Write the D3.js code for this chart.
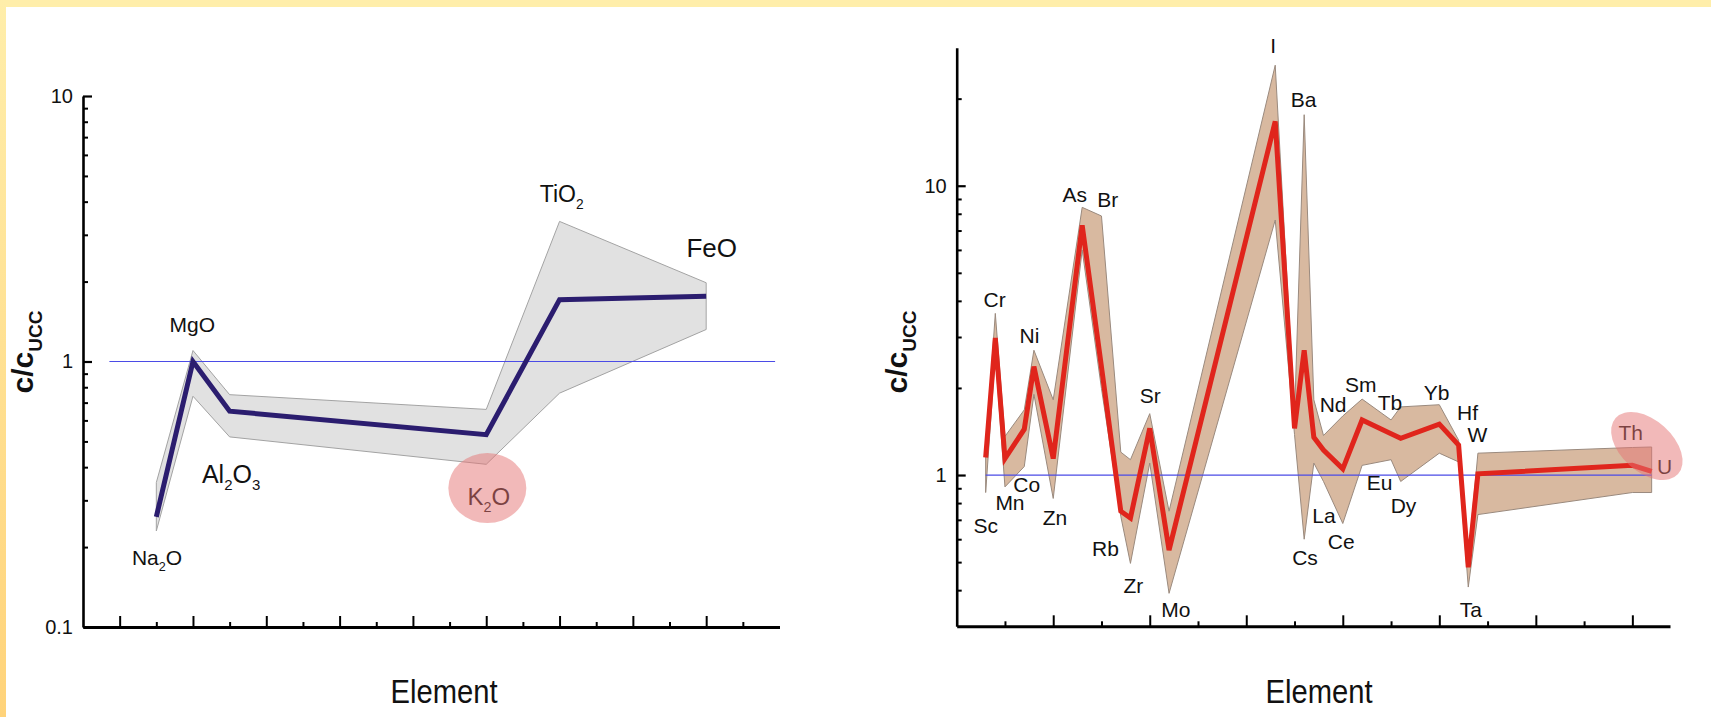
<!DOCTYPE html>
<html>
<head>
<meta charset="utf-8">
<script src="https://cdn.jsdelivr.net/npm/d3@7"></script>
<style>
html, body { margin:0; padding:0; background:#fff; overflow:hidden; }
text { font-family: "Liberation Sans", Arial, sans-serif; }
</style>
</head>
<body>
<div id="grafica"></div>
<script>
// ---- grafica izquierda: oxidos ----
var oxidos      = ["Na2O", "MgO", "Al2O3", "K2O", "TiO2", "FeO"];
var oxidoPos    = [2, 3, 4, 11, 13, 17];
var oxidoMedia  = [0.26, 1.0, 0.65, 0.53, 1.71, 1.76];
var oxidoMax    = [0.35, 1.10, 0.75, 0.66, 3.37, 1.98];
var oxidoMin    = [0.23, 0.74, 0.52, 0.41, 0.76, 1.32];
// etiquetas (texto, posicion en unidades de datos)
var oxidoEtiq     = ["Na_2O", "MgO", "Al_2O_3", "K_2O", "TiO_2", "FeO"];
var oxidoEtiqX    = [2.02, 2.98, 4.04, 11.07, 13.06, 17.15];
var oxidoEtiqY    = [0.1715, 1.297, 0.350, 0.2886, 4.0, 2.47];
var oxidoYMayor   = [0.1, 1, 10];
var oxidoYMenor   = [0.2, 0.3, 0.4, 0.5, 0.6, 0.7, 0.8, 0.9, 2, 3, 4, 5, 6, 7, 8, 9];
var oxidoXMayor   = [1, 3, 5, 7, 9, 11, 13, 15, 17];
var oxidoXMenor   = [2, 4, 6, 8, 10, 12, 14, 16, 18];

// ---- grafica derecha: elementos traza ----
var elementos = ["Sc","Cr","Mn","Co","Ni","Zn","As","Br","Rb","Zr","Sr","Mo","I","Cs","Ba","La","Nd","Ce","Sm","Tb","Dy","Yb","Hf","Ta","W","Th","U"];
var elemPos   = [0.6,0.8,1.0,1.4,1.6,2.0,2.6,3.0,3.4,3.6,4.0,4.4,6.6,7.0,7.2,7.4,7.6,8.0,8.4,9.0,9.2,10.0,10.4,10.6,10.8,14.0,14.4];
var elemMedia = [1.15,2.98,1.14,1.44,2.37,1.14,7.3,2.36,0.75,0.71,1.45,0.55,16.7,1.45,2.70,1.35,1.22,1.05,1.55,1.39,1.34,1.50,1.27,0.48,1.01,1.08,1.03];
var elemMax   = [1.2,3.62,1.36,1.68,2.70,1.82,8.42,7.86,1.2,1.13,1.63,0.75,26.1,1.6,17.6,1.82,1.37,1.60,1.83,1.55,1.72,1.75,1.32,0.52,1.19,1.245,1.25];
var elemMin   = [0.87,2.6,0.91,1.07,1.9,0.83,6.0,1.99,0.72,0.495,1.1,0.39,7.61,1.38,0.60,1.10,0.95,0.68,1.08,1.13,0.95,1.19,1.11,0.41,0.73,0.87,0.87];
var elemEtiq  = ["I","Ba","As","Br","Cr","Ni","Sc","Mn","Co","Zn","Rb","Zr","Sr","Mo","Cs","La","Ce","Nd","Sm","Tb","Eu","Dy","Yb","Hf","W","Ta","Th","U"];
var elemEtiqX = [6.56,7.19,2.445,3.13,0.787,1.508,0.603,1.104,1.45,2.037,3.083,3.66,4.01,4.54,7.217,7.61,7.967,7.80,8.373,8.978,8.765,9.258,9.946,10.584,10.787,10.653,13.968,14.67];
var elemEtiqY = [28.7,18.75,8.81,8.46,3.82,2.85,0.629,0.757,0.876,0.672,0.526,0.392,1.77,0.322,0.489,0.684,0.555,1.655,1.94,1.678,0.888,0.741,1.816,1.549,1.304,0.322,1.321,1.008];
var elemYMayor = [1, 10];
var elemYMenor = [0.4, 0.5, 0.6, 0.7, 0.8, 0.9, 2, 3, 4, 5, 6, 7, 8, 9, 20];
var elemXMayor = [2, 4, 6, 8, 10, 12, 14];
var elemXMenor = [1, 3, 5, 7, 9, 11, 13];

var W = 1711, H = 717;
var svg = d3.select("#grafica").append("svg")
  .attr("width", W).attr("height", H);

// marco amarillo
var grad = svg.append("defs").append("linearGradient")
  .attr("id", "marco").attr("x1", 0).attr("y1", 0).attr("x2", 0).attr("y2", 1);
grad.append("stop").attr("offset", "0%").attr("stop-color", "#ffeeaa");
grad.append("stop").attr("offset", "100%").attr("stop-color", "#ffd37a");
svg.append("rect").attr("x", 0).attr("y", 0).attr("width", W).attr("height", 7).attr("fill", "#ffeeaa");
svg.append("rect").attr("x", 0).attr("y", 0).attr("width", 6).attr("height", H).attr("fill", "url(#marco)");

// texto con subindices: "Al_2O_3"
function etiqueta(g, texto, px, py, size, fill) {
  var t = g.append("text")
    .attr("x", px).attr("y", py)
    .attr("text-anchor", "middle")
    .attr("font-size", size)
    .attr("fill", fill || "#111");
  var partes = texto.split("_");
  t.append("tspan").text(partes[0]);
  for (var i = 1; i < partes.length; i++) {
    t.append("tspan").attr("font-size", size * 0.6).attr("dy", size * 0.3).text(partes[i].charAt(0));
    if (partes[i].length > 1) t.append("tspan").attr("dy", -size * 0.3).text(partes[i].slice(1));
  }
  return t;
}

function panel(cfg) {
  var g = svg.append("g");
  var x = d3.scaleLinear().domain(cfg.xDom).range(cfg.xRan);
  var y = d3.scaleLog().domain(cfg.yDom).range(cfg.yRan);
  var filas = cfg.pos.map(function(p, i) {
    return {x: p, m: cfg.media[i], hi: cfg.max[i], lo: cfg.min[i]};
  });

  // banda min-max
  var area = d3.area()
    .x(function(d) { return x(d.x); })
    .y0(function(d) { return y(d.lo); })
    .y1(function(d) { return y(d.hi); });
  g.append("path").datum(filas)
    .attr("d", area)
    .attr("fill", cfg.banda)
    .attr("stroke", cfg.bordeBanda)
    .attr("stroke-width", 1);

  // linea de referencia c/cUCC = 1
  g.append("line")
    .attr("x1", x(cfg.ref[0])).attr("x2", x(cfg.ref[1]))
    .attr("y1", y(1)).attr("y2", y(1))
    .attr("stroke", "#4b4be6").attr("stroke-width", 1.2);

  // media
  var linea = d3.line()
    .x(function(d) { return x(d.x); })
    .y(function(d) { return y(d.m); });
  g.append("path").datum(filas)
    .attr("d", linea)
    .attr("fill", "none")
    .attr("stroke", cfg.color)
    .attr("stroke-width", 5);

  // ejes
  var x0 = cfg.xRan[0], yBase = cfg.yRan[0];
  var ejeY = g.append("g").attr("transform", "translate(" + x0 + ",0)")
    .call(d3.axisLeft(y).tickValues(cfg.yMayor).tickFormat(d3.format("~g"))
      .tickSize(-9).tickSizeOuter(0).tickPadding(10));
  ejeY.select(".domain").attr("stroke-width", 2.6);
  ejeY.selectAll(".tick line").attr("stroke-width", 2.2);
  ejeY.selectAll(".tick text").attr("font-size", 20).attr("fill", "#111")
    .style("font-family", "'Liberation Sans', Arial, sans-serif");

  var ejeYm = g.append("g").attr("transform", "translate(" + x0 + ",0)")
    .call(d3.axisLeft(y).tickValues(cfg.yMenor).tickFormat("").tickSize(-5).tickSizeOuter(0));
  ejeYm.select(".domain").remove();
  ejeYm.selectAll(".tick line").attr("stroke-width", 2);

  var ejeX = g.append("g").attr("transform", "translate(0," + yBase + ")")
    .call(d3.axisBottom(x).tickValues(cfg.xMayor).tickFormat("").tickSize(-11).tickSizeOuter(0));
  ejeX.select(".domain").attr("stroke-width", 3);
  ejeX.selectAll(".tick line").attr("stroke-width", 2);

  var ejeXm = g.append("g").attr("transform", "translate(0," + yBase + ")")
    .call(d3.axisBottom(x).tickValues(cfg.xMenor).tickFormat("").tickSize(-5).tickSizeOuter(0));
  ejeXm.select(".domain").remove();
  ejeXm.selectAll(".tick line").attr("stroke-width", 2);

  // etiquetas de elementos
  cfg.etiq.forEach(function(t, i) {
    var fs = cfg.tamEtiq[t] || cfg.tamBase;
    etiqueta(g, t, x(cfg.etiqX[i]), y(cfg.etiqY[i]), fs);
  });

  // resaltado
  cfg.resaltes.forEach(function(r) {
    var cx = x(r.x), cy = y(r.y);
    g.append("ellipse")
      .attr("cx", cx).attr("cy", cy)
      .attr("rx", r.rx).attr("ry", r.ry)
      .attr("transform", "rotate(" + r.rot + "," + cx + "," + cy + ")")
      .attr("fill", "#e57373").attr("opacity", 0.5);
  });

  // titulos
  var yt = g.append("text")
    .attr("transform", "translate(" + (x0 - 50) + ",352) rotate(-90)")
    .attr("text-anchor", "middle")
    .attr("font-size", 30).attr("font-weight", "bold").attr("fill", "#111");
  yt.append("tspan").text("c/c");
  yt.append("tspan").attr("font-size", 19).attr("dy", 9).text("UCC");

  g.append("text")
    .attr("x", cfg.tituloX).attr("y", 703)
    .attr("text-anchor", "middle")
    .attr("font-size", 33)
    .attr("textLength", 107).attr("lengthAdjust", "spacingAndGlyphs")
    .attr("fill", "#111")
    .text("Element");
}

panel({
  xDom: [0, 19], xRan: [83, 779.5],
  yDom: [0.1, 10], yRan: [627, 96],
  pos: oxidoPos, media: oxidoMedia, max: oxidoMax, min: oxidoMin,
  banda: "#e1e1e1", bordeBanda: "#a3a3a3", color: "#2b1d6f",
  ref: [0.72, 18.88],
  yMayor: oxidoYMayor, yMenor: oxidoYMenor, xMayor: oxidoXMayor, xMenor: oxidoXMenor,
  etiq: oxidoEtiq, etiqX: oxidoEtiqX, etiqY: oxidoEtiqY,
  tamBase: 21, tamEtiq: {"Al_2O_3": 25, "K_2O": 24, "TiO_2": 23, "FeO": 26},
  resaltes: [{x: 11.03, y: 0.3337, rx: 39, ry: 35, rot: 0}],
  tituloX: 444
});

panel({
  xDom: [0, 14.78], xRan: [956.7, 1670],
  yDom: [0.3, 30], yRan: [626.3, 47.7],
  pos: elemPos, media: elemMedia, max: elemMax, min: elemMin,
  banda: "#d8b9a0", bordeBanda: "#9a8a7e", color: "#e0251c",
  ref: [0.6, 14.4],
  yMayor: elemYMayor, yMenor: elemYMenor, xMayor: elemXMayor, xMenor: elemXMenor,
  etiq: elemEtiq, etiqX: elemEtiqX, etiqY: elemEtiqY,
  tamBase: 21, tamEtiq: {},
  resaltes: [{x: 14.30, y: 1.26, rx: 42, ry: 26, rot: 42}],
  tituloX: 1319
});
</script>
</body>
</html>
